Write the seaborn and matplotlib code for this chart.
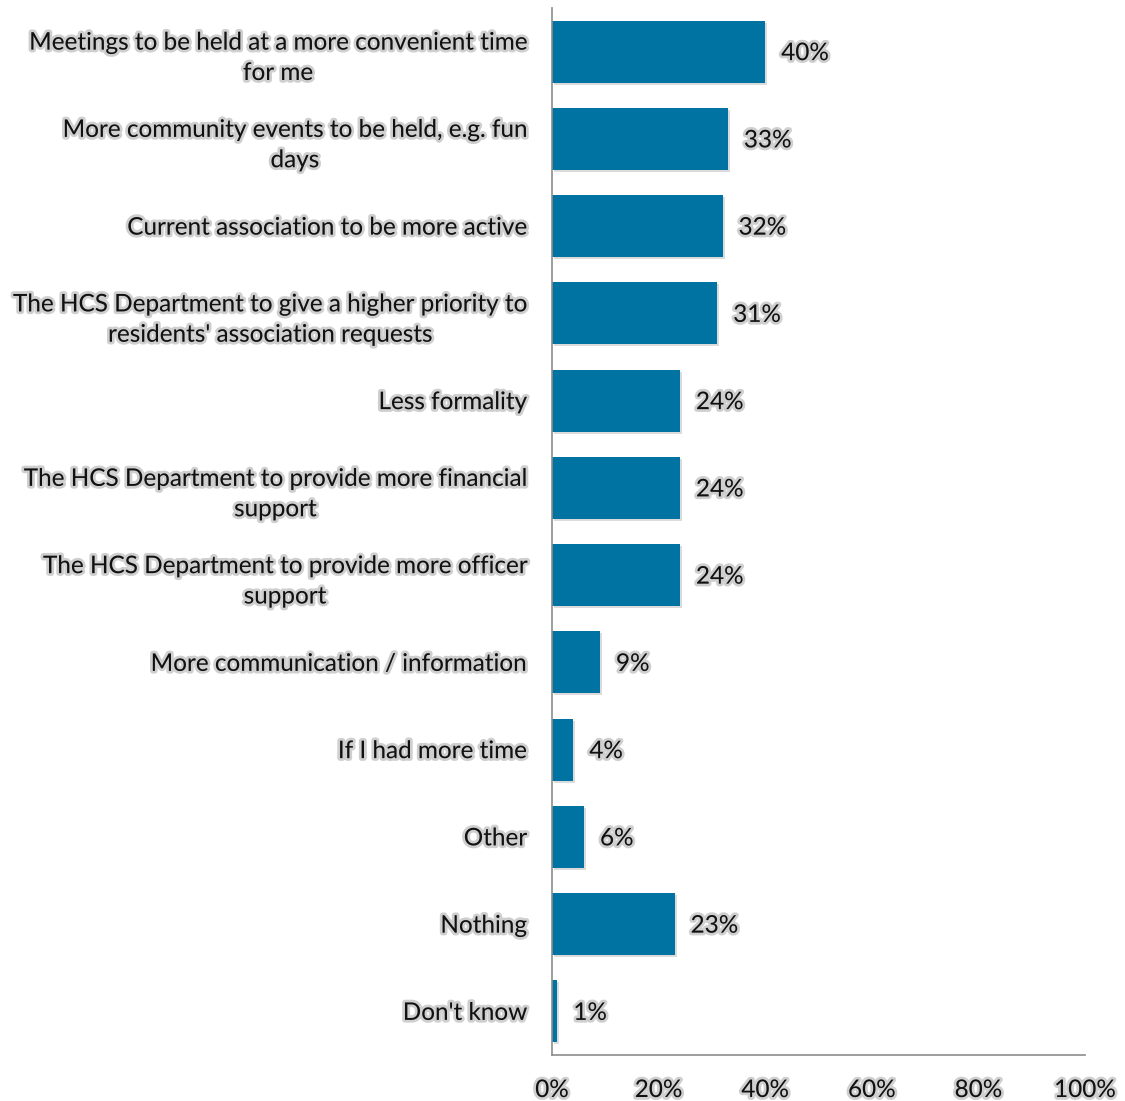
import matplotlib
matplotlib.use("Agg")
import matplotlib.pyplot as plt
import matplotlib.patheffects as pe
import seaborn as sns
import pandas as pd

categories = [
    "Meetings to be held at a more convenient time\nfor me",
    "More community events to be held, e.g. fun\ndays",
    "Current association to be more active",
    "The HCS Department to give a higher priority to\nresidents' association requests",
    "Less formality",
    "The HCS Department to provide more financial\nsupport",
    "The HCS Department to provide more officer\nsupport",
    "More communication / information",
    "If I had more time",
    "Other",
    "Nothing",
    "Don't know",
]
values = [40, 33, 32, 31, 24, 24, 24, 9, 4, 6, 23, 1]
xticks = [0, 20, 40, 60, 80, 100]
xtick_labels = ["0%", "20%", "40%", "60%", "80%", "100%"]

df = pd.DataFrame({"category": categories, "value": values})

sns.set_theme(style="white")
plt.rcParams["font.family"] = ["Lato", "DejaVu Sans"]

fig = plt.figure(figsize=(11.25, 11.01), dpi=100)
ax = fig.add_axes([552 / 1125, 1 - 1055 / 1101, (1085 - 552) / 1125, (1055 - 8) / 1101])

bar_color = "#0073A3"
sns.barplot(data=df, y="category", x="value", orient="h", color=bar_color,
            width=0.71, saturation=1, ax=ax)

shadow = [pe.SimplePatchShadow(offset=(1.5, -1.5), shadow_rgbFace="#888888", alpha=0.3), pe.Normal()]
for p in ax.patches:
    p.set_path_effects(shadow)
    p.set_edgecolor("none")

glow = [pe.withStroke(linewidth=4, foreground="#c0c0c0", alpha=0.75)]
fs = 17.5

for i, v in enumerate(values):
    t = ax.text(v + 3.0, i, f"{v}%", va="center_baseline", ha="left", fontsize=fs, color="#111111")
    t.set_path_effects(glow)

ax.set_xlim(0, 100)
ax.set_ylim(len(categories) - 0.5, -0.5)
ax.set_xticks(xticks)
ax.set_xticklabels(xtick_labels)
ax.set_xlabel("")
ax.set_ylabel("")
ax.tick_params(axis="x", length=0, pad=18, labelsize=fs, colors="#111111")
ax.tick_params(axis="y", length=0, pad=18, labelsize=fs, colors="#111111")
for lab in ax.get_yticklabels():
    lab.set_multialignment("center")
    lab.set_linespacing(1.55)
    lab.set_path_effects(glow)
for lab in ax.get_xticklabels():
    lab.set_path_effects(glow)

for s in ["top", "right"]:
    ax.spines[s].set_visible(False)
for s in ["left", "bottom"]:
    ax.spines[s].set_color("#8c8c8c")
    ax.spines[s].set_linewidth(1.2)

fig.savefig("out.png", dpi=100, facecolor="white")
